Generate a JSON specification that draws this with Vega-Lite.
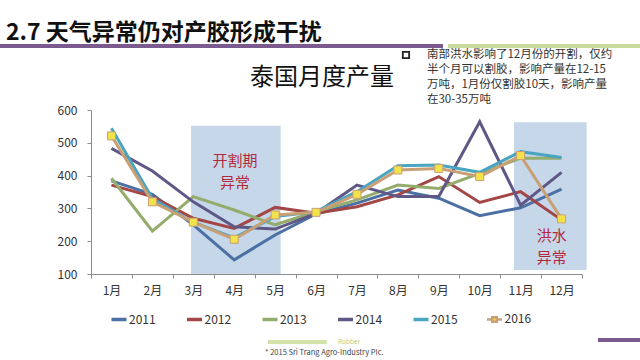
{
  "$schema": "https://vega.github.io/schema/vega-lite/v6.json",
  "autosize": "none",
  "width": 491,
  "height": 164,
  "padding": {"left": 91, "top": 110, "right": 58, "bottom": 86},
  "background": "white",
  "config": {
    "font": "Noto Sans CJK SC",
    "view": {"stroke": null},
    "axis": {"labelFont": "Noto Sans CJK SC", "labelFontSize": 12, "labelColor": "#333333", "domainColor": "#8c8c8c", "tickColor": "#8c8c8c", "tickSize": 4, "grid": false},
    "axisY": {"labelOverlap": false, "tickCount": 6, "domain": true}
  },
  "data": {
    "values": [
      {"month": 1, "year": "2011", "value": 384}, {"month": 2, "year": "2011", "value": 343}, {"month": 3, "year": "2011", "value": 250}, {"month": 4, "year": "2011", "value": 143}, {"month": 5, "year": "2011", "value": 219}, {"month": 6, "year": "2011", "value": 283}, {"month": 7, "year": "2011", "value": 316}, {"month": 8, "year": "2011", "value": 356}, {"month": 9, "year": "2011", "value": 331}, {"month": 10, "year": "2011", "value": 278}, {"month": 11, "year": "2011", "value": 302}, {"month": 12, "year": "2011", "value": 359},
      {"month": 1, "year": "2012", "value": 371}, {"month": 2, "year": "2012", "value": 336}, {"month": 3, "year": "2012", "value": 270}, {"month": 4, "year": "2012", "value": 239}, {"month": 5, "year": "2012", "value": 303}, {"month": 6, "year": "2012", "value": 285}, {"month": 7, "year": "2012", "value": 305}, {"month": 8, "year": "2012", "value": 341}, {"month": 9, "year": "2012", "value": 397}, {"month": 10, "year": "2012", "value": 318}, {"month": 11, "year": "2012", "value": 351}, {"month": 12, "year": "2012", "value": 265},
      {"month": 1, "year": "2013", "value": 392}, {"month": 2, "year": "2013", "value": 231}, {"month": 3, "year": "2013", "value": 336}, {"month": 4, "year": "2013", "value": 295}, {"month": 5, "year": "2013", "value": 250}, {"month": 6, "year": "2013", "value": 290}, {"month": 7, "year": "2013", "value": 326}, {"month": 8, "year": "2013", "value": 371}, {"month": 9, "year": "2013", "value": 361}, {"month": 10, "year": "2013", "value": 407}, {"month": 11, "year": "2013", "value": 453}, {"month": 12, "year": "2013", "value": 453},
      {"month": 1, "year": "2014", "value": 483}, {"month": 2, "year": "2014", "value": 414}, {"month": 3, "year": "2014", "value": 320}, {"month": 4, "year": "2014", "value": 244}, {"month": 5, "year": "2014", "value": 237}, {"month": 6, "year": "2014", "value": 285}, {"month": 7, "year": "2014", "value": 371}, {"month": 8, "year": "2014", "value": 336}, {"month": 9, "year": "2014", "value": 336}, {"month": 10, "year": "2014", "value": 564}, {"month": 11, "year": "2014", "value": 310}, {"month": 12, "year": "2014", "value": 410},
      {"month": 1, "year": "2015", "value": 544}, {"month": 2, "year": "2015", "value": 330}, {"month": 3, "year": "2015", "value": 258}, {"month": 4, "year": "2015", "value": 210}, {"month": 5, "year": "2015", "value": 275}, {"month": 6, "year": "2015", "value": 290}, {"month": 7, "year": "2015", "value": 351}, {"month": 8, "year": "2015", "value": 430}, {"month": 9, "year": "2015", "value": 432}, {"month": 10, "year": "2015", "value": 410}, {"month": 11, "year": "2015", "value": 473}, {"month": 12, "year": "2015", "value": 455},
      {"month": 1, "year": "2016", "value": 521}, {"month": 2, "year": "2016", "value": 320}, {"month": 3, "year": "2016", "value": 258}, {"month": 4, "year": "2016", "value": 206}, {"month": 5, "year": "2016", "value": 280}, {"month": 6, "year": "2016", "value": 288}, {"month": 7, "year": "2016", "value": 343}, {"month": 8, "year": "2016", "value": 417}, {"month": 9, "year": "2016", "value": 422}, {"month": 10, "year": "2016", "value": 397}, {"month": 11, "year": "2016", "value": 461}, {"month": 12, "year": "2016", "value": 268}
    ]
  },
  "layer": [
    {
      "data": {"values": [{}]},
      "mark": {"type": "rect", "color": "#c6d7ea"},
      "encoding": {
        "x": {"datum": 2.944, "type": "quantitative", "scale": {"domain": [0.5, 12.5], "nice": false, "zero": false},
          "axis": {"title": null, "values": [0.5, 1.5, 2.5, 3.5, 4.5, 5.5, 6.5, 7.5, 8.5, 9.5, 10.5, 11.5, 12.5], "labelExpr": "datum.value < 12 ? (datum.value + 0.5) + '月' : ''", "labelOffset": 20.46, "labelFlush": false, "labelOverlap": false, "labelPadding": 7, "labelBound": false}},
        "x2": {"datum": 5.136},
        "y": {"datum": 552, "type": "quantitative", "scale": {"domain": [100, 600], "nice": false, "zero": false},
          "axis": {"title": null, "values": [100, 200, 300, 400, 500, 600], "labelPadding": 10, "labelFlush": false, "labelOverlap": false, "labelBound": false, "domain": true}},
        "y2": {"datum": 100}
      }
    },
    {
      "data": {"values": [{}]},
      "mark": {"type": "rect", "color": "#c6d7ea"},
      "encoding": {
        "x": {"datum": 10.837, "type": "quantitative"},
        "x2": {"datum": 12.614},
        "y": {"datum": 562.5, "type": "quantitative"},
        "y2": {"datum": 112}
      }
    },
    {
      "mark": {"type": "line", "strokeWidth": 3},
      "encoding": {
        "x": {
          "field": "month", "type": "quantitative",
          "scale": {"domain": [0.5, 12.5], "nice": false, "zero": false},
          "axis": {"title": null, "values": [0.5, 1.5, 2.5, 3.5, 4.5, 5.5, 6.5, 7.5, 8.5, 9.5, 10.5, 11.5, 12.5], "labelExpr": "datum.value < 12 ? (datum.value + 0.5) + '月' : ''", "labelOffset": 20.46, "labelFlush": false, "labelOverlap": false, "labelPadding": 7, "labelBound": false}
        },
        "y": {
          "field": "value", "type": "quantitative",
          "scale": {"domain": [100, 600], "nice": false, "zero": false},
          "axis": {"title": null, "values": [100, 200, 300, 400, 500, 600], "labelPadding": 10, "labelFlush": false, "labelOverlap": false, "labelBound": false, "domain": true}
        },
        "color": {
          "field": "year", "type": "nominal",
          "scale": {"domain": ["2011", "2012", "2013", "2014", "2015", "2016"], "range": ["#4b70a3", "#a34646", "#95ad6c", "#5f5887", "#4aa5c0", "#c9a075"]},
          "legend": {
            "title": null, "orient": "none", "legendX": 22, "legendY": 203, "direction": "horizontal", "columns": 6,
            "symbolType": "M-0.5,0H0.5", "symbolSize": 900, "symbolStrokeWidth": 3.5, "labelFontSize": 12, "labelColor": "#333333", "labelOffset": 4, "columnPadding": 23.5,
            "encode": {"symbols": {"update": {
              "shape": {"signal": "datum.value === '2016' ? 'M-0.5,0H-0.15M0.15,0H0.5M-0.15,-0.15H0.15V0.15H-0.15Z' : 'M-0.5,0H0.5'"},
              "fill": {"signal": "datum.value === '2016' ? '#f3e34b' : 'transparent'"},
              "strokeWidth": {"signal": "datum.value === '2016' ? 2.5 : 3.5"}
            }}}
          }
        },
        "order": {"field": "month"}
      }
    },
    {
      "transform": [{"filter": "datum.year === '2016'"}],
      "mark": {"type": "point", "shape": "square", "filled": true, "fill": "#f3e34b", "stroke": "#c9a075", "strokeWidth": 1, "size": 64, "opacity": 1},
      "encoding": {
        "x": {"field": "month", "type": "quantitative"},
        "y": {"field": "value", "type": "quantitative"}
      }
    },
    {
      "data": {"values": [{}]},
      "mark": {"type": "text", "text": ["开割期", "异常"], "fontSize": 15, "lineHeight": 22, "color": "#b3283a", "align": "center", "baseline": "middle"},
      "encoding": {"x": {"datum": 4.02, "type": "quantitative"}, "y": {"datum": 445.4, "type": "quantitative"}}
    },
    {
      "data": {"values": [{}]},
      "mark": {"type": "text", "text": ["洪水", "异常"], "fontSize": 15, "lineHeight": 22, "color": "#b3283a", "align": "center", "baseline": "middle"},
      "encoding": {"x": {"datum": 11.76, "type": "quantitative"}, "y": {"datum": 216.8, "type": "quantitative"}}
    },
    {
      "data": {"values": [{}]},
      "mark": {"type": "text", "text": "2.7 天气异常仍对产胶形成干扰", "fontSize": 23, "fontWeight": "bold", "color": "#111111", "align": "left", "baseline": "alphabetic"},
      "encoding": {"x": {"datum": -1.577, "type": "quantitative"}, "y": {"datum": 812, "type": "quantitative"}}
    },
    {
      "data": {"values": [{}]},
      "mark": {"type": "rule", "color": "#7b5a8f", "strokeWidth": 4},
      "encoding": {"x": {"datum": -1.75, "type": "quantitative"}, "x2": {"datum": 9.102}, "y": {"datum": 795, "type": "quantitative"}}
    },
    {
      "data": {"values": [{}]},
      "mark": {"type": "rule", "color": "#c8d99c", "strokeWidth": 4},
      "encoding": {"x": {"datum": 9.224, "type": "quantitative"}, "x2": {"datum": 13.95}, "y": {"datum": 795, "type": "quantitative"}}
    },
    {
      "data": {"values": [{}]},
      "mark": {"type": "text", "text": "泰国月度产量", "fontSize": 24, "color": "#111111", "align": "center", "baseline": "middle"},
      "encoding": {"x": {"datum": 6.145, "type": "quantitative"}, "y": {"datum": 697.6, "type": "quantitative"}}
    },
    {
      "data": {"values": [{}]},
      "mark": {"type": "point", "shape": "square", "filled": false, "stroke": "#222222", "strokeWidth": 1.8, "size": 40, "opacity": 1},
      "encoding": {"x": {"datum": 8.198, "type": "quantitative"}, "y": {"datum": 767.7, "type": "quantitative"}}
    },
    {
      "data": {"values": [{}]},
      "mark": {"type": "text", "text": ["南部洪水影响了12月份的开割，仅约", "半个月可以割胶，影响产量在12-15", "万吨，1月份仅割胶10天，影响产量", "在30-35万吨"], "fontSize": 11.5, "lineHeight": 15, "color": "#333333", "align": "left", "baseline": "middle"},
      "encoding": {"x": {"datum": 8.711, "type": "quantitative"}, "y": {"datum": 767.7, "type": "quantitative"}}
    },
    {
      "data": {"values": [{}]},
      "mark": {"type": "rule", "color": "#d3e2a6", "strokeWidth": 4},
      "encoding": {"x": {"datum": 4.826, "type": "quantitative"}, "x2": {"datum": 6.26}, "y": {"datum": -107.3, "type": "quantitative"}}
    },
    {
      "data": {"values": [{}]},
      "mark": {"type": "text", "text": "Rubber", "fontSize": 6.5, "color": "#b8cc90", "align": "left", "baseline": "middle"},
      "encoding": {"x": {"datum": 6.536, "type": "quantitative"}, "y": {"datum": -107.3, "type": "quantitative"}}
    },
    {
      "data": {"values": [{}]},
      "mark": {"type": "text", "text": "* 2015 Sri Trang Agro-Industry Plc.", "fontSize": 7.5, "color": "#444444", "align": "left", "baseline": "middle"},
      "encoding": {"x": {"datum": 4.752, "type": "quantitative"}, "y": {"datum": -140, "type": "quantitative"}}
    },
    {
      "data": {"values": [{}]},
      "mark": {"type": "rule", "color": "#7b5a8f", "strokeWidth": 4},
      "encoding": {"x": {"datum": 12.89, "type": "quantitative"}, "x2": {"datum": 13.95}, "y": {"datum": -101.2, "type": "quantitative"}}
    }
  ]
}
